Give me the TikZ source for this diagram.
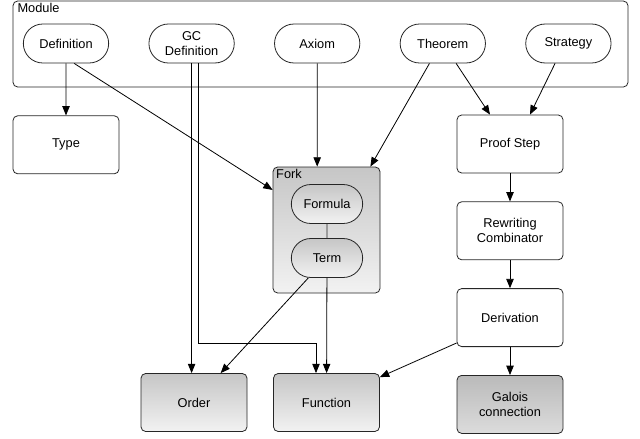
\documentclass[tikz,border=0pt]{standalone}
\usepackage{fontspec}
\setmainfont{Liberation Sans}
\usepackage{tikz}
\usetikzlibrary{arrows.meta, positioning, shapes.misc}

\definecolor{grisHaut}{HTML}{C6C6C6}
\definecolor{grisBas}{HTML}{F2F2F2}
\definecolor{grisFonce}{HTML}{BABABA}
\definecolor{grisMoyen}{HTML}{DCDCDC}

\begin{document}
\begin{tikzpicture}[
  x=0.75pt, y=-0.75pt,
  font=\fontsize{9.6}{11.2}\selectfont,
  node distance=21pt and 29.6pt,
  concept/.style={
    draw=black!85,
    line width=0.6pt,
    rounded rectangle,
    align=center,
    minimum height=29.25pt,
    minimum width=66pt,
    inner sep=1pt,
    fill=white
  },
  boite/.style={
    draw=black!85,
    line width=0.6pt,
    rounded corners=3.5pt,
    align=center,
    minimum height=43.5pt,
    minimum width=79.5pt,
    inner sep=1pt,
    fill=white
  },
  grise/.style={
    top color=grisHaut,
    bottom color=grisBas
  },
  fleche/.style={
    -{Triangle[length=7pt, width=5.6pt]},
    line width=0.6pt,
    draw=black
  },
  trait/.style={
    line width=0.6pt,
    draw=black!85
  },
  titre/.style={
    inner sep=1pt,
    anchor=north west
  }
]
  \useasboundingbox (0,0) rectangle (640,439);

  % cadre du module
  \node[boite, minimum width=461.25pt, minimum height=64.5pt] (module) at (320.5,44) {};
  \node[titre] at ([xshift=2.5pt, yshift=-0.5pt]module.north west) {Module};

  \node[concept] (def) at (66,43.5) {Definition};
  \node[concept, right=of def] (gcdef) {GC\\Definition};
  \node[concept, right=of gcdef] (axiom) {Axiom};
  \node[concept, right=of axiom] (thm) {Theorem};
  \node[concept, right=of thm] (strat) {Strategy};

  \node[boite, below=39pt of def] (type) {Type};

  \node[boite] (proof) at (510,144) {Proof Step};
  \node[boite, below=of proof] (rewrite) {Rewriting\\Combinator};
  \node[boite, below=of rewrite] (deriv) {Derivation};
  \node[boite, top color=grisFonce, bottom color=grisMoyen, below=of deriv] (galois) {Galois\\connection};

  \node[boite, grise] (order) at (194,402.5) {Order};
  \node[boite, grise] (func) at (326.5,402.5) {Function};

  % bloc Fork
  \node[boite, grise, minimum width=80.25pt, minimum height=94.5pt] (fork) at (326.5,230) {};
  \node[titre] at ([xshift=1.5pt, yshift=-0.5pt]fork.north west) {Fork};
  \node[concept, grise, minimum width=55.5pt] (formula) at (327,204) {Formula};
  \node[concept, grise, minimum width=55.5pt] (term) at (327,258) {Term};
  \draw[trait] (formula) -- (term);

  \coordinate (coude) at (316,343);

  \draw[fleche] (def) -- (type);
  \draw[fleche] (def.south east) ++(-15,0) -- ([yshift=-17.5pt]fork.north west);
  \draw[fleche] (gcdef.south) -- (gcdef.south |- order.north);
  \draw[fleche] ([xshift=4.8pt]gcdef.south) |- (coude) -- (coude |- func.north);
  \draw[fleche] (axiom) -- (axiom |- fork.north);
  \draw[fleche] ([xshift=-10pt]thm.south) -- ([xshift=-7.5pt]fork.north east);
  \draw[fleche] ([xshift=10pt]thm.south) -- ([xshift=-15pt]proof.north);
  \draw[fleche] ([xshift=-10pt]strat.south) -- ([xshift=15pt]proof.north);
  \draw[fleche] (proof) -- (rewrite);
  \draw[fleche] (rewrite) -- (deriv);
  \draw[fleche] (deriv) -- (galois);
  \draw[fleche] ([xshift=-14pt]term.south) -- ([xshift=20pt]order.north);
  \draw[fleche] (term) -- (func);
  \draw[fleche] ([yshift=3pt]deriv.south west) -- ([yshift=-3pt]func.north east);
\end{tikzpicture}
\end{document}
